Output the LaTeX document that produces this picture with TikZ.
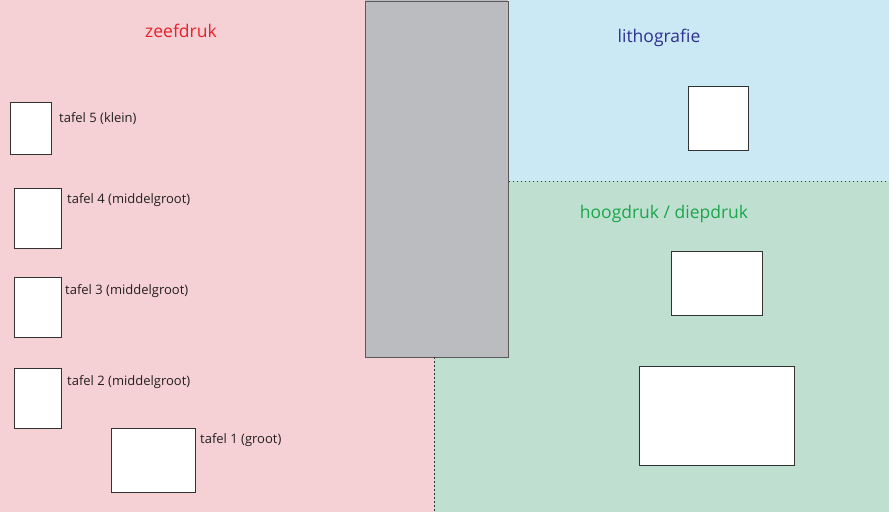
\documentclass[tikz,border=0pt]{standalone}
\usepackage{fontspec}
\setmainfont{Open Sans}
\definecolor{pinkbg}{HTML}{F5D1D5}
\definecolor{bluebg}{HTML}{CBE8F5}
\definecolor{greenbg}{HTML}{BFE0D1}
\definecolor{graybox}{HTML}{BBBCC0}
\definecolor{redtxt}{HTML}{E8202A}
\definecolor{bluetxt}{HTML}{2E3192}
\definecolor{greentxt}{HTML}{1AA64A}
\definecolor{darktxt}{HTML}{231F20}
\begin{document}
\begin{tikzpicture}[x=1pt,y=-1pt,
  tafel/.style={draw=black!80,line width=0.9pt,fill=white,inner sep=0pt,anchor=north west},
  lbl/.style={anchor=west,inner sep=0pt,text=darktxt,font=\fontsize{13}{15}\selectfont},
  title/.style={inner sep=0pt,font=\fontsize{17.5}{20}\selectfont},
  sep/.style={black!80,line width=1pt,dash pattern=on 1.2pt off 2.8pt}]
\useasboundingbox (0,0) rectangle (889,512);
% backgrounds
\fill[pinkbg] (0,0) rectangle (434,512);
\fill[bluebg] (509,0) rectangle (889,181);
\fill[greenbg] (434,181) rectangle (889,512);
\fill[graybox] (365,0) rectangle (508,357);
% central gray block
\node[draw=black!65,line width=0.9pt,fill=graybox,inner sep=0pt,anchor=north west,
  minimum width=143pt,minimum height=356pt] (gray) at (365,0.5) {};
% dotted separators
\coordinate (h1) at (509,181.5);
\coordinate (h2) at (889,181.5);
\draw[sep] (h1) -- (h2);
\coordinate (v2) at (434,512);
\draw[sep] (gray.south west -| v2) -- (v2);
% titles
\node[title,text=redtxt] (tz) at (181,30.5) {zeefdruk};
\node[title,text=bluetxt] (tl) at (659,38) {lithografie};
\node[title,text=greentxt] (th) at (664,213.5) {hoogdruk / diepdruk};
% zeefdruk tables
\node[tafel,minimum width=41pt,minimum height=52pt] (t5) at (10,102) {};
\node[lbl] (l5) at (59,118.5) {tafel 5 (klein)};
\node[tafel,minimum width=47pt,minimum height=60pt] (t4) at (13.5,188) {};
\node[lbl] (l4) at (67,200) {tafel 4 (middelgroot)};
\node[tafel,minimum width=47pt,minimum height=60pt] (t3) at (13.5,277) {};
\node[lbl] (l3) at (65,291.5) {tafel 3 (middelgroot)};
\node[tafel,minimum width=47pt,minimum height=60pt] (t2) at (13.5,368) {};
\node[lbl] (l2) at (67,382.5) {tafel 2 (middelgroot)};
\node[tafel,minimum width=83.5pt,minimum height=64pt] (t1) at (111,428) {};
\node[lbl] (l1) at (200,440.5) {tafel 1 (groot)};
% lithografie table
\node[tafel,minimum width=59.5pt,minimum height=64pt] (tl1) at (688,86) {};
% hoogdruk / diepdruk tables
\node[tafel,minimum width=91.5pt,minimum height=64pt] (th1) at (670.5,250.5) {};
\node[tafel,minimum width=155.5pt,minimum height=99pt] (th2) at (638.5,365.5) {};
\end{tikzpicture}
\end{document}
